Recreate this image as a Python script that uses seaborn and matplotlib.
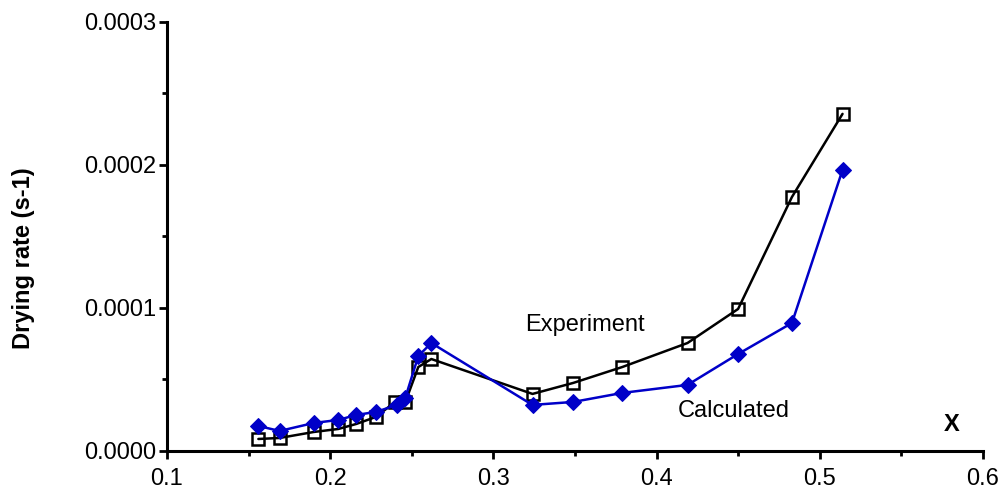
import numpy as np
import pandas as pd
import matplotlib
matplotlib.use("Agg")
import matplotlib.pyplot as plt
import seaborn as sns
from matplotlib.ticker import MultipleLocator, FormatStrFormatter

sns.set_style("ticks")
plt.rcParams['font.family'] = ['Liberation Sans', 'DejaVu Sans']
plt.rcParams['text.color'] = 'black'
plt.rcParams['axes.labelcolor'] = 'black'

# moisture content X and drying rates
x_exp = [0.156, 0.169, 0.190, 0.205, 0.216, 0.228, 0.240, 0.246, 0.254, 0.262,
         0.324, 0.349, 0.379, 0.419, 0.450, 0.483, 0.514]
rate_exp = [0.0000084, 0.0000091, 0.0000133, 0.0000154, 0.0000189, 0.0000238,
            0.0000345, 0.0000340, 0.0000587, 0.0000643, 0.0000399, 0.0000476,
            0.0000587, 0.0000755, 0.0000993, 0.0001776, 0.0002357]
x_calc = [0.156, 0.169, 0.190, 0.205, 0.216, 0.228, 0.241, 0.246, 0.254, 0.262,
          0.324, 0.349, 0.379, 0.419, 0.450, 0.483, 0.514]
rate_calc = [0.0000175, 0.0000140, 0.0000196, 0.0000217, 0.0000252, 0.0000273,
             0.0000322, 0.0000370, 0.0000664, 0.0000755, 0.0000322, 0.0000343,
             0.0000406, 0.0000462, 0.0000678, 0.0000895, 0.0001965]

df_exp = pd.DataFrame({"X": x_exp, "rate": rate_exp})
df_calc = pd.DataFrame({"X": x_calc, "rate": rate_calc})

fig = plt.figure(figsize=(10.06, 4.98), dpi=100)
ax = fig.add_axes([0.166, 0.0944, 0.811, 0.8616])

sns.lineplot(data=df_exp, x="X", y="rate", ax=ax, color="black", linewidth=1.8,
             marker="s", markersize=8.5, markerfacecolor="none",
             markeredgecolor="black", markeredgewidth=1.8, zorder=3)
sns.lineplot(data=df_calc, x="X", y="rate", ax=ax, color="#0000c8", linewidth=1.8,
             marker="D", markersize=8, markerfacecolor="#0000c8",
             markeredgecolor="#0000c8", zorder=4)

ax.set_xlim(0.1, 0.6)
ax.set_ylim(0, 0.0003)
ax.xaxis.set_major_locator(MultipleLocator(0.1))
ax.xaxis.set_minor_locator(MultipleLocator(0.05))
ax.yaxis.set_major_locator(MultipleLocator(0.0001))
ax.yaxis.set_minor_locator(MultipleLocator(0.00005))
ax.xaxis.set_major_formatter(FormatStrFormatter("%.1f"))
ax.yaxis.set_major_formatter(FormatStrFormatter("%.4f"))

sns.despine(ax=ax)
for s in ["left", "bottom"]:
    ax.spines[s].set_linewidth(2.2)
    ax.spines[s].set_color("black")
ax.tick_params(which="major", length=6, width=2, labelsize=17, colors="black")
ax.tick_params(which="minor", length=3.5, width=2, colors="black")
ax.tick_params(axis="x", which="major", pad=6)
ax.tick_params(axis="y", which="major", pad=2)

ax.set_xlabel("")
ax.set_ylabel("Drying rate (s-1)", fontsize=17, fontweight="bold")
ax.yaxis.set_label_coords(-0.162, 0.45)

ax.text(0.962, 0.061, "X", transform=ax.transAxes, fontsize=17,
        fontweight="bold", va="center", ha="center")
ax.text(0.439, 0.294, "Experiment", transform=ax.transAxes, fontsize=17,
        va="center", ha="left")
ax.text(0.626, 0.093, "Calculated", transform=ax.transAxes, fontsize=17,
        va="center", ha="left")

fig.savefig("out.png", dpi=100)
